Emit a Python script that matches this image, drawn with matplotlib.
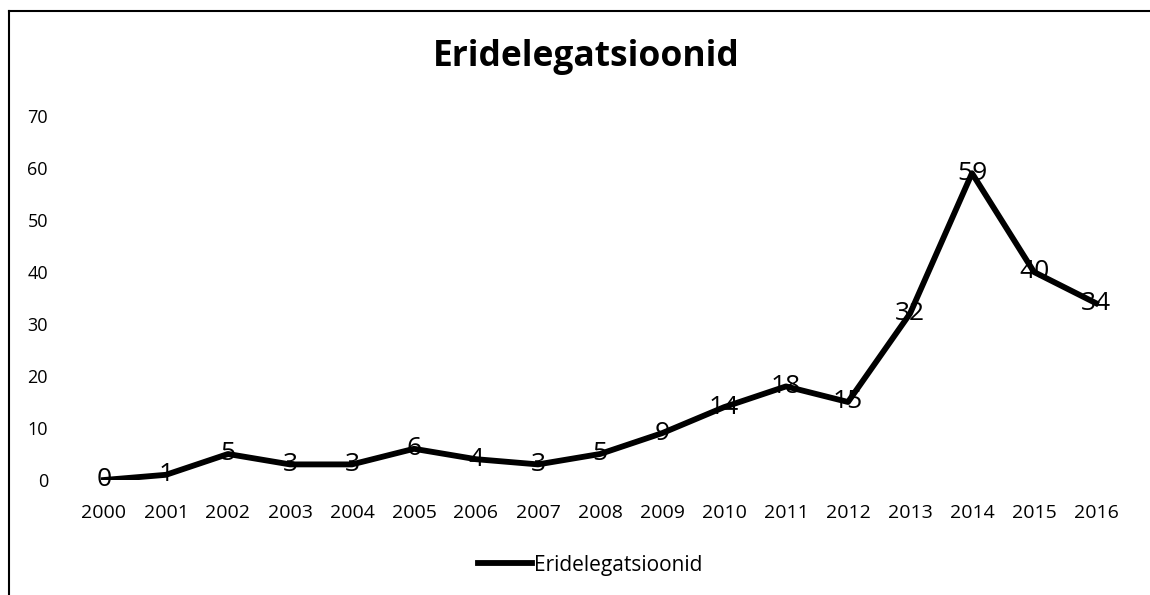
import matplotlib
matplotlib.use("Agg")
import matplotlib.pyplot as plt
from matplotlib.lines import Line2D

plt.rcParams["font.family"] = ["Open Sans", "DejaVu Sans"]

TITLE = "Eridelegatsioonid"
YEARS = ["2000", "2001", "2002", "2003", "2004", "2005", "2006", "2007", "2008",
         "2009", "2010", "2011", "2012", "2013", "2014", "2015", "2016"]
VALUES = [0, 1, 5, 3, 3, 6, 4, 3, 5, 9, 14, 18, 15, 32, 59, 40, 34]
Y_TICKS = [0, 10, 20, 30, 40, 50, 60, 70]

W, H = 1150, 595
fig = plt.figure(figsize=(W / 100, H / 100), dpi=100)
ax = fig.add_axes([73 / W, (H - 480) / H, 1054 / W, 364 / H])

x = list(range(len(YEARS)))
ax.plot(x, VALUES, color="black", linewidth=4.2, solid_joinstyle="round",
        label=TITLE)
for xi, v in zip(x, VALUES):
    ax.text(xi, v, str(v), ha="center", va="center", fontsize=19, color="black")

ax.set_xlim(-0.5, len(YEARS) - 0.5)
ax.set_ylim(0, 70)
ax.set_xticks(x)
ax.set_xticklabels(YEARS, fontsize=14)
ax.set_yticks(Y_TICKS)
ax.set_yticklabels([str(t) for t in Y_TICKS], fontsize=13)
ax.tick_params(length=0)
ax.tick_params(axis="x", pad=17)
ax.tick_params(axis="y", pad=18)
for s in ax.spines.values():
    s.set_visible(False)

fig.text(586 / W, 1 - 57 / H, TITLE, ha="center", va="center",
         fontsize=25.5, fontweight="bold")

fig.legend(loc="center", bbox_to_anchor=(590 / W, 1 - 565 / H), frameon=False,
           fontsize=15, handlelength=2.6, handletextpad=0.1)

# chart frame (only left and top edges visible in the scan)
fig.add_artist(Line2D([9 / W, 9 / W], [0, 1 - 11 / H], color="black", linewidth=1.5,
                      transform=fig.transFigure))
fig.add_artist(Line2D([9 / W, 1], [1 - 11 / H, 1 - 11 / H], color="black",
                      linewidth=1.5, transform=fig.transFigure))

fig.savefig("out.png", dpi=100)
